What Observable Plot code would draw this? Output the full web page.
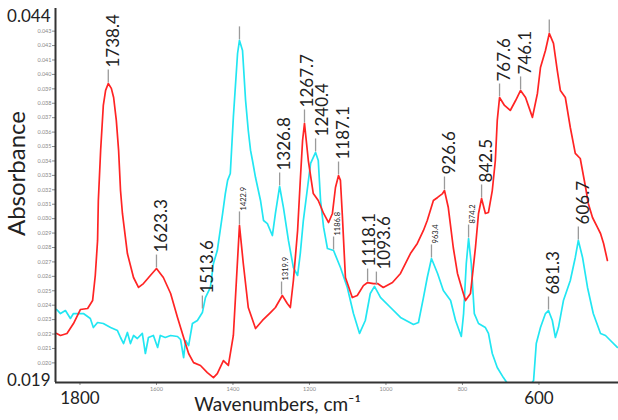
<!DOCTYPE html>
<html><head><meta charset="utf-8">
<script src="https://cdn.jsdelivr.net/npm/d3@7"></script>
<script src="https://cdn.jsdelivr.net/npm/@observablehq/plot@0.6"></script>
<style>body{margin:0;background:#fff}</style>
</head><body><div id="chart"></div>
<script>
// Red spectrum (wavenumber on the picture's axis, absorbance)
const redW = [1861,1851,1834,1817,1799,1780,1767,1760,1754,1752,1746,1739,1733,1726,1718,1712,1705,1699,1694,1689,1676,1660,1647,1634,1616,1600,1582,1563,1545,1529,1516,1503,1485,1467,1451,1441,1425,1412,1399,1391,1383,1373,1360,1341,1323,1302,1289,1271,1258,1250,1242,1231,1224,1218,1213,1203,1190,1177,1163,1150,1140,1132,1124,1119,1114,1106,1088,1075,1059,1048,1033,1022,1007,983,962,936,918,902,892,876,865,852,847,837,824,813,800,792,779,766,758,750,740,732,722,714,709,703,690,675,661,648,635,617,604,596,583,573,562,552,544,531,518,505,492,478,471,460,447,439,431,421];
const redA = [0.02204,0.02190,0.02204,0.02273,0.02370,0.02377,0.02432,0.02606,0.02849,0.03126,0.03473,0.03785,0.03889,0.03937,0.03903,0.03840,0.03681,0.03473,0.03195,0.03036,0.02758,0.02592,0.02523,0.02550,0.02606,0.02654,0.02592,0.02481,0.02315,0.02176,0.02065,0.02002,0.01982,0.01933,0.01898,0.01926,0.02016,0.01982,0.02190,0.02571,0.02953,0.02689,0.02384,0.02238,0.02294,0.02349,0.02384,0.02467,0.02412,0.02384,0.02571,0.02918,0.03265,0.03542,0.03660,0.03403,0.03174,0.03126,0.03036,0.02973,0.03036,0.03216,0.03299,0.03265,0.03022,0.02592,0.02453,0.02467,0.02536,0.02557,0.02550,0.02550,0.02523,0.02557,0.02620,0.02758,0.02828,0.02918,0.02987,0.03126,0.03147,0.03174,0.03195,0.03077,0.02800,0.02620,0.02502,0.02432,0.02481,0.02800,0.03036,0.03140,0.03036,0.03043,0.03195,0.03403,0.03681,0.03840,0.03785,0.03750,0.03819,0.03889,0.03840,0.03702,0.03868,0.04048,0.04166,0.04284,0.04215,0.04027,0.03889,0.03840,0.03632,0.03452,0.03417,0.03216,0.03105,0.03008,0.02939,0.02897,0.02828,0.02710];
// Cyan spectrum
const cyanW = [1861,1851,1838,1825,1817,1807,1791,1773,1765,1754,1739,1720,1702,1694,1686,1676,1668,1660,1650,1637,1629,1621,1608,1597,1590,1577,1563,1545,1537,1529,1524,1516,1506,1493,1480,1472,1459,1451,1441,1427,1420,1414,1407,1399,1388,1383,1375,1367,1360,1354,1349,1341,1328,1320,1310,1297,1289,1278,1268,1255,1242,1231,1224,1216,1205,1197,1184,1177,1171,1163,1153,1137,1119,1101,1085,1069,1054,1041,1030,1014,988,962,928,915,902,892,881,865,850,831,818,803,797,790,784,777,769,758,740,732,722,709,693,682,661,635,614,607,596,583,575,565,557,549,536,518,505,497,486,473,458,439,426,413,395];
const cyanA = [0.02370,0.02342,0.02363,0.02308,0.02342,0.02342,0.02342,0.02308,0.02245,0.02280,0.02273,0.02245,0.02224,0.02176,0.02134,0.02211,0.02134,0.02190,0.02169,0.02204,0.02065,0.02176,0.02190,0.02107,0.02190,0.02176,0.02190,0.02183,0.02162,0.02037,0.02155,0.02120,0.02273,0.02294,0.02349,0.02453,0.02523,0.02689,0.02779,0.03036,0.03174,0.03265,0.03313,0.03702,0.04145,0.04236,0.04166,0.03819,0.03611,0.03473,0.03403,0.03285,0.03126,0.02987,0.02966,0.02883,0.03036,0.03223,0.03077,0.02849,0.02661,0.02606,0.02758,0.02987,0.03216,0.03383,0.03459,0.03403,0.03126,0.02939,0.02793,0.02779,0.02661,0.02523,0.02342,0.02204,0.02294,0.02481,0.02530,0.02453,0.02384,0.02315,0.02266,0.02280,0.02453,0.02592,0.02724,0.02620,0.02502,0.02432,0.02294,0.02183,0.02342,0.02689,0.02862,0.02689,0.02342,0.02273,0.02245,0.02204,0.02065,0.01968,0.01898,0.01856,0.01794,0.01794,0.01878,0.02134,0.02245,0.02342,0.02363,0.02294,0.02176,0.02245,0.02432,0.02571,0.02731,0.02849,0.02731,0.02523,0.02342,0.02204,0.02190,0.02155,0.02107];
// Peak annotations
const peakLabel  = ["1738.4","1623.3","1513.6","1422.9","1319.9","1326.8","1267.7","1240.4","1187.1","1186.8","1118.1","1093.6","963.4","926.6","874.2","842.5","767.6","746.1","681.3","606.7","",""];
const peakSeries = ["red","red","cyan","red","red","cyan","red","cyan","red","cyan","red","cyan","cyan","red","cyan","red","red","red","cyan","cyan","red","cyan"];
const peakW = [1726,1600,1480,1383,1273,1278,1213,1184,1124,1137,1048,1025,881,847,784,750,703,648,575,497,573,1383];
const peakA = [0.03937,0.02654,0.02370,0.02953,0.02467,0.03223,0.03660,0.03459,0.03299,0.02779,0.02557,0.02536,0.02724,0.03195,0.02862,0.03140,0.03840,0.03889,0.02363,0.02849,0.04284,0.04236];
const peakSmall = [false,false,false,true,true,false,false,false,false,true,false,false,true,false,true,false,false,false,false,false,false,false];
// Ticks
const yTicks = [0.020,0.021,0.022,0.023,0.024,0.025,0.026,0.027,0.028,0.029,0.030,0.031,0.032,0.033,0.034,0.035,0.036,0.037,0.038,0.039,0.040,0.041,0.042,0.043];
const yEndTop = [0.044];
const yEndBottom = [0.019];
const xTicks = [1600,1400,1200,1000,800];
const xEndTicks = [1800,600];
const xTitle = "Wavenumbers, cm\u207B\u00B9";
const yTitle = "Absorbance";

const xDomain = [1864, 392], yDomain = [0.01864, 0.04457];
const W = 618, H = 420, mL = 55, mR = 0, mT = 8, mB = 38;

const red = redW.map((w, i) => ({w, a: redA[i]}));
const cyan = cyanW.map((w, i) => ({w, a: cyanA[i]}));
const peaks = peakLabel.map((label, i) => ({label, series: peakSeries[i], w: peakW[i], a: peakA[i], small: peakSmall[i]}));

// simple label de-overlap for the large rotated labels (layout only)
const sx = d3.scaleLinear(xDomain, [mL, W - mR]);
const sy = d3.scaleLinear(yDomain, [H - mB, mT]);
const big = peaks.filter(d => !d.small && d.label).sort((a, b) => sx(a.w) - sx(b.w));
const fs = 17, glyph = 15, charW = 0.57 * fs;
big.forEach(d => {
  d.px = sx(d.w) + 5;
  d.bottom = sy(d.a) - 16;
  d.top = d.bottom - d.label.length * charW;
});
for (let iter = 0; iter < 20; iter++) {
  for (let i = 1; i < big.length; i++) {
    const a = big[i - 1], b = big[i];
    const vOverlap = a.bottom > b.top && b.bottom > a.top;
    const gap = b.px - a.px;
    if (vOverlap && gap < glyph) {
      const push = (glyph - gap) / 2;
      a.px -= push; b.px += push;
    }
  }
}
big.forEach(d => { d.lw = sx.invert(d.px); });
const small = peaks.filter(d => d.small);

const tickSymbol = {draw(ctx) { ctx.moveTo(0, 0); ctx.lineTo(0, -13); }};
const font = "Lato, 'Liberation Sans', sans-serif";

const chart = Plot.plot({
  width: W, height: H,
  marginLeft: mL, marginRight: mR, marginTop: mT, marginBottom: mB,
  style: {fontFamily: font, background: "#fff", overflow: "visible"},
  x: {domain: xDomain},
  y: {domain: yDomain},
  marks: [
    Plot.axisY(yTicks, {label: null, tickSize: 3, tickPadding: 1, fontSize: 5.5, color: "#8a8a8a", tickFormat: ".3f"}),
    Plot.axisY(yEndTop, {label: null, tickSize: 0, tickPadding: 5, fontSize: 17, color: "#222", tickFormat: ".3f"}),
    Plot.axisY(yEndBottom, {label: null, tickSize: 0, tickPadding: 5, fontSize: 17, color: "#222", tickFormat: ".3f", dy: 3}),
    Plot.axisX(xTicks, {label: null, tickSize: 3, tickPadding: 2, fontSize: 5.5, color: "#8a8a8a", tickFormat: "d"}),
    Plot.axisX(xEndTicks, {label: null, tickSize: 3, tickPadding: 6, fontSize: 17, color: "#222", stroke: "#8a8a8a", tickFormat: "d"}),
    Plot.line(cyan, {x: "w", y: "a", stroke: "#22e6f2", strokeWidth: 1.7, clip: true}),
    Plot.line(red, {x: "w", y: "a", stroke: "#ff2424", strokeWidth: 1.7, clip: true}),
    Plot.dot(peaks, {x: "w", y: "a", symbol: tickSymbol, stroke: "#9a9a9a", strokeWidth: 1.3, fill: "none", dy: -1}),
    Plot.text(big, {x: "lw", y: "a", text: "label", rotate: -90, textAnchor: "start", dy: -16, fontSize: fs, fill: "#222"}),
    Plot.text(small, {x: "w", y: "a", text: "label", rotate: -90, textAnchor: "start", dx: 4, dy: -15, fontSize: 7.5, fill: "#222"}),
    Plot.ruleX([xDomain[0]], {stroke: "#333", strokeWidth: 2}),
    Plot.ruleY([yDomain[0]], {stroke: "#333", strokeWidth: 2}),
    Plot.text([yTitle], {text: d => d, frameAnchor: "left", textAnchor: "middle", rotate: -90, dx: -38, dy: -22, fontSize: 24, fill: "#222"}),
    Plot.text([xTitle], {text: d => d, frameAnchor: "bottom-left", textAnchor: "middle", dx: 222, dy: 28, fontSize: 19, fill: "#222"})
  ]
});
document.getElementById("chart").append(chart);
</script>
</body></html>
